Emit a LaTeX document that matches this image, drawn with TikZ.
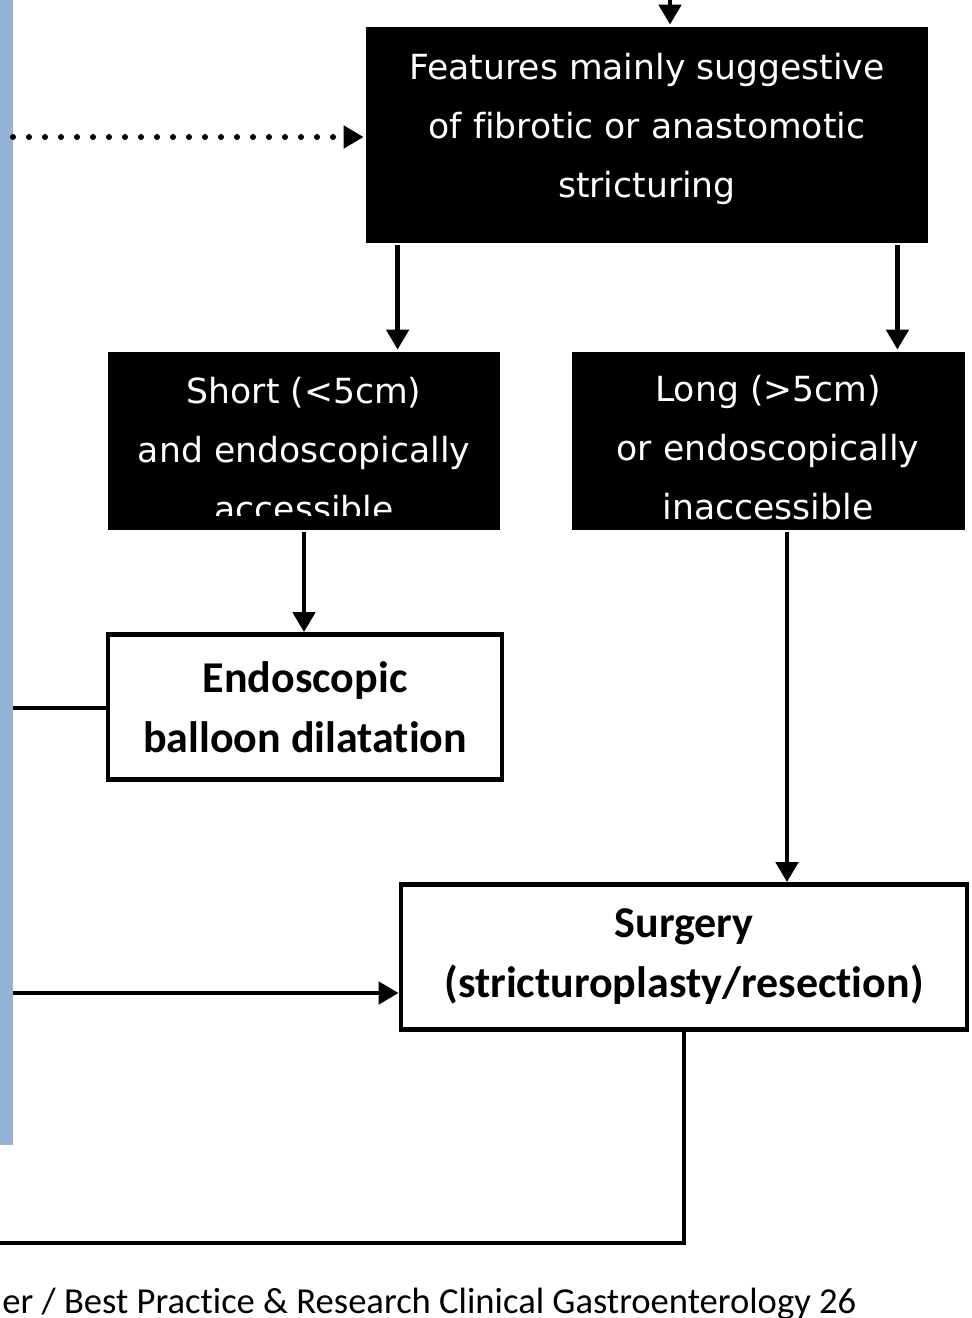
\documentclass[tikz,border=0pt]{standalone}
\usepackage{fontspec}
\setmainfont[Ligatures=NoCommon]{Carlito}
\newfontfamily\boxfont[Ligatures=NoCommon]{DejaVu Sans}
\usetikzlibrary{arrows.meta}
\definecolor{barblue}{HTML}{95B3D7}

\tikzset{
  darkbox/.style={fill=black, inner sep=0pt},
  darktext/.style={text=white, align=center, inner sep=0pt, font=\boxfont\fontsize{17.3}{29.5}\selectfont},
  lightbox/.style={draw=black, fill=white, line width=2.4pt, align=center, inner sep=0pt,
    font=\bfseries\fontsize{22}{30}\selectfont},
  dotline/.style={line width=3pt, line cap=round, dash pattern=on 0pt off 8pt}
}

\begin{document}
\begin{tikzpicture}[x=0.5pt, y=-0.5pt, >={Triangle[length=10pt,width=11pt]}, line width=2.4pt]
\useasboundingbox (0,0) rectangle (971,1318);

% side bar
\fill[barblue] (0,0) rectangle (13,1145);

% boxes
\node[darkbox, minimum width=281pt, minimum height=108pt] (features) at (647,135) {};
\node[darktext] at ([yshift=3pt]features.center) {Features mainly suggestive\\of fibrotic or anastomotic\\stricturing};

\node[darkbox, minimum width=196pt, minimum height=89pt] (short) at (304,441) {};
\begin{scope}
  \clip (short.north west) rectangle ([yshift=8.5pt]short.south east);
  \node[darktext] at ([yshift=-4.5pt]short.center) {Short (<5cm)\\and endoscopically\\accessible};
\end{scope}

\node[darkbox, minimum width=196.5pt, minimum height=89pt] (long) at (768,441) {};
\node[darktext] at ([yshift=-3.5pt]long.center) {Long (>5cm)\\or endoscopically\\inaccessible};

\node[lightbox, minimum width=197pt, minimum height=72.5pt] (endo) at (305,707) {Endoscopic\\balloon dilatation};

\node[lightbox, minimum width=283pt, minimum height=72.5pt] (surgery) at (684,957) {Surgery\\(stricturoplasty/resection)};

% free ends
\coordinate (topin) at (670,-20);
\coordinate (barA) at (13,137);
\coordinate (barB) at (13,708);
\coordinate (barC) at (13,993);
\coordinate (loopL) at (-10,1243);

% connectors
\draw[->] (topin) -- (topin |- features.north);
\draw[->, dotline] (barA) -- (barA -| features.west);
\draw[->] ([xshift=17pt]features.south west) -- ([xshift=17pt]features.south west |- short.north);
\draw[->] ([xshift=-16.5pt]features.south east) -- ([xshift=-16.5pt]features.south east |- long.north);
\draw[->] (short.south) -- (short.south |- endo.north);
\draw[->] ([xshift=9.5pt]long.south) -- ([xshift=9.5pt]long.south |- surgery.north);
\draw (barB) -- (barB -| endo.west);
\draw[->] (barC) -- (barC -| surgery.west);
\draw (surgery.south) -- (surgery.south |- loopL) -- (loopL);

% running footer
\node[anchor=base west, inner sep=0pt, font=\fontsize{18.3}{20}\selectfont] (footer) at (0,1313)
  {er / Best Practice \& Research Clinical Gastroenterology 26};
\end{tikzpicture}
\end{document}
